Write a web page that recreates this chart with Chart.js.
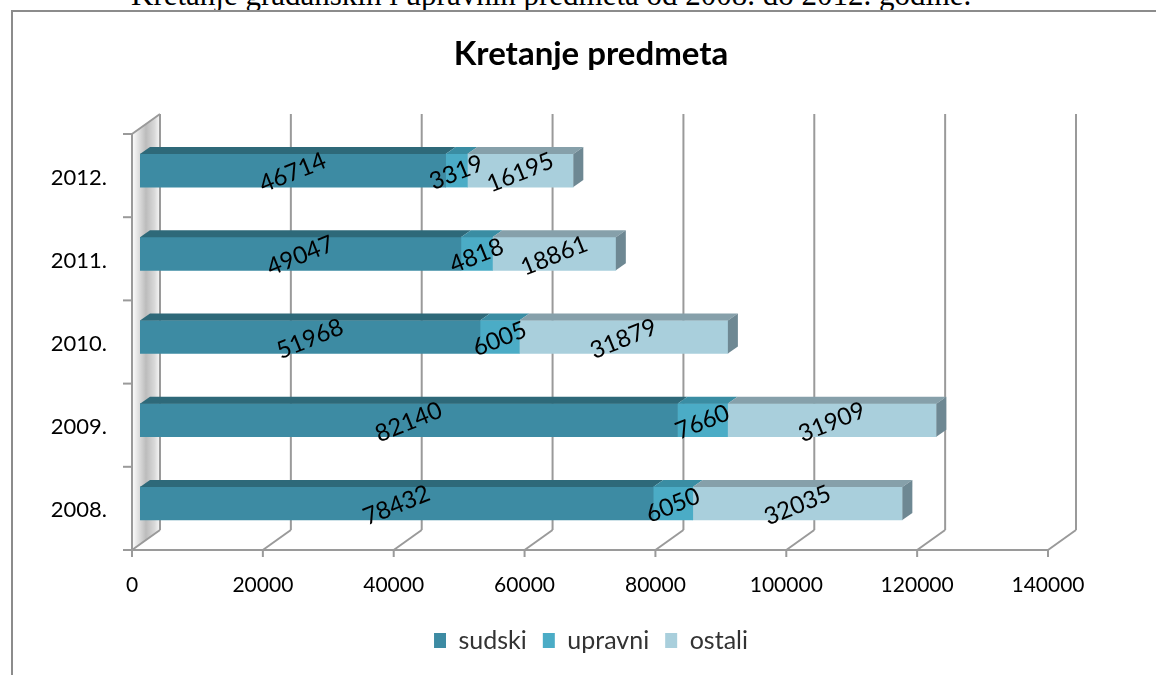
<!DOCTYPE html>
<html>
<head>
<meta charset="utf-8">
<title>Kretanje predmeta</title>
<script src="https://cdn.jsdelivr.net/npm/chart.js@4.4.1/dist/chart.umd.min.js"></script>
<style>
  html, body { margin: 0; padding: 0; background: #fff; overflow: hidden; width: 1156px; height: 675px; }
  .caption { position: absolute; left: 131px; top: -21px; font-family: "Liberation Serif", serif; font-size: 31px; line-height: 31px; white-space: nowrap; color: #000; }
  .box { position: absolute; left: 11px; top: 10px; width: 1200px; height: 700px; border-left: 2px solid #8c8c8c; border-top: 2px solid #8c8c8c; }
  canvas { display: block; }
</style>
</head>
<body>
<div class="caption">Kretanje građanskih i upravnih predmeta od 2008. do 2012. godine.</div>
<div class="box"><canvas id="kretanjeChart" width="1156" height="663"></canvas></div>
<script>
// podaci
const godine = ['2008.', '2009.', '2010.', '2011.', '2012.'];
const sudski = [78432, 82140, 51968, 49047, 46714];
const upravni = [6050, 7660, 6005, 4818, 3319];
const ostali = [32035, 31909, 31879, 18861, 16195];
const xTicks = [0, 20000, 40000, 60000, 80000, 100000, 120000, 140000];

const FONT = 'Lato, "Open Sans", sans-serif';
const front = { dx: -8, dy: 5 };    // prednja ravnina u odnosu na stupce
const back = { dx: 20, dy: -15 };   // zadnji zid
const depth = { dx: 10, dy: -7 };   // dubina stupca
const topColors = ['#2E6979', '#3A8DA3', '#86A0AA'];
const sideColor = '#6E8893';
const lineColor = '#9a9a9a';

const line = (ctx, x1, y1, x2, y2) => {
    ctx.beginPath();
    ctx.moveTo(x1, y1);
    ctx.lineTo(x2, y2);
    ctx.stroke();
};

const poly = (ctx, pts, color) => {
    ctx.beginPath();
    ctx.moveTo(pts[0][0], pts[0][1]);
    pts.slice(1).forEach(p => ctx.lineTo(p[0], p[1]));
    ctx.closePath();
    ctx.fillStyle = color;
    ctx.fill();
};

// zidovi, pod, rešetka i oznake osi
const walls3d = {
    id: 'walls3d',
    beforeDatasetsDraw(chart) {
        const { ctx, chartArea: a, scales: { x } } = chart;
        const L = x.getPixelForValue(0);
        const catH = (a.bottom - a.top) / godine.length;
        ctx.save();

        // lijevi zid
        const g = ctx.createLinearGradient(L + front.dx, 0, L + back.dx, 0);
        g.addColorStop(0, '#ffffff');
        g.addColorStop(0.5, '#bcbcbc');
        g.addColorStop(0.8, '#d8d8d8');
        g.addColorStop(1, '#f8f8f8');
        poly(ctx, [
            [L + front.dx, a.top + front.dy], [L + back.dx, a.top + back.dy],
            [L + back.dx, a.bottom + back.dy], [L + front.dx, a.bottom + front.dy]
        ], g);

        ctx.strokeStyle = lineColor;
        ctx.lineWidth = 2;
        // okomite linije na zadnjem zidu
        xTicks.forEach(v => {
            const px = x.getPixelForValue(v) + back.dx;
            line(ctx, px, a.top + back.dy, px, a.bottom + back.dy);
        });
        // lijevi zid - rubovi
        line(ctx, L + front.dx, a.top + front.dy, L + front.dx, a.bottom + front.dy);
        line(ctx, L + front.dx, a.top + front.dy, L + back.dx, a.top + back.dy);
        for (let i = 0; i <= godine.length; i++) {
            const py = a.top + front.dy + i * catH;
            line(ctx, L + front.dx - 9, py, L + front.dx, py);
        }
        // pod
        const fy = a.bottom + front.dy;
        line(ctx, L + front.dx, fy, x.getPixelForValue(xTicks[xTicks.length - 1]) + front.dx, fy);
        xTicks.forEach(v => {
            const px = x.getPixelForValue(v);
            line(ctx, px + front.dx, fy, px + back.dx, a.bottom + back.dy);
            line(ctx, px + front.dx, fy, px + front.dx, fy + 7);
        });

        // oznake osi
        ctx.fillStyle = '#000';
        ctx.font = '21px ' + FONT;
        ctx.textAlign = 'center';
        ctx.textBaseline = 'middle';
        xTicks.forEach(v => {
            ctx.fillText(String(v), x.getPixelForValue(v) + front.dx, fy + 35);
        });
        ctx.font = '22px ' + FONT;
        ctx.textAlign = 'right';
        const yScale = chart.scales.y;
        godine.forEach((lab, i) => {
            ctx.fillText(lab, L + front.dx - 25, yScale.getPixelForValue(i) + 7);
        });
        ctx.restore();
    },
    afterDatasetsDraw(chart) {
        const { ctx } = chart;
        const n = chart.data.datasets.length;
        ctx.save();
        chart.data.datasets.forEach((ds, d) => {
            chart.getDatasetMeta(d).data.forEach(bar => {
                const { x: xe, y: ye, base, height } = bar.getProps(['x', 'y', 'base', 'height'], true);
                const t = ye - height / 2, b = ye + height / 2;
                poly(ctx, [[base, t], [xe, t], [xe + depth.dx, t + depth.dy], [base + depth.dx, t + depth.dy]], topColors[d]);
                if (d === n - 1) {
                    poly(ctx, [[xe, t], [xe + depth.dx, t + depth.dy], [xe + depth.dx, b + depth.dy], [xe, b]], sideColor);
                }
            });
        });
        // vrijednosti
        ctx.fillStyle = '#000';
        ctx.font = '24px ' + FONT;
        ctx.textAlign = 'center';
        ctx.textBaseline = 'middle';
        chart.data.datasets.forEach((ds, d) => {
            chart.getDatasetMeta(d).data.forEach((bar, i) => {
                const { x: xe, y: ye, base } = bar.getProps(['x', 'y', 'base'], true);
                ctx.save();
                ctx.translate((xe + base) / 2, ye + 2);
                ctx.rotate(-22 * Math.PI / 180);
                ctx.fillText(String(ds.data[i]), 0, 0);
                ctx.restore();
            });
        });
        ctx.restore();
    }
};

const hidden = { ticks: { display: false }, grid: { display: false }, border: { display: false } };

new Chart(document.getElementById('kretanjeChart'), {
    type: 'bar',
    data: {
        labels: godine,
        datasets: [
            { label: 'sudski', data: sudski, backgroundColor: '#3D8BA3' },
            { label: 'upravni', data: upravni, backgroundColor: '#4BACC6' },
            { label: 'ostali', data: ostali, backgroundColor: '#A9CFDC' }
        ]
    },
    options: {
        indexAxis: 'y',
        responsive: false,
        animation: false,
        devicePixelRatio: 1,
        datasets: { bar: { barThickness: 33, borderWidth: 0 } },
        layout: { padding: { bottom: 12 } },
        scales: {
            x: { ...hidden, stacked: true, min: 0, max: 140000, afterFit: s => { s.height = 67; } },
            y: { ...hidden, stacked: true, reverse: true, afterFit: s => { s.width = 127; } },
            yr: { ...hidden, axis: 'y', type: 'linear', position: 'right', afterFit: s => { s.width = 113; } }
        },
        plugins: {
            title: {
                display: true,
                text: 'Kretanje predmeta',
                color: '#000',
                font: { family: FONT, size: 33, weight: 'bold' },
                padding: { top: 23, bottom: 54.4 }
            },
            legend: {
                position: 'bottom',
                labels: { color: '#333', font: { family: FONT, size: 25 }, boxWidth: 12, boxHeight: 15, padding: 16 }
            },
            tooltip: { enabled: false }
        }
    },
    plugins: [walls3d]
});
</script>
</body>
</html>
